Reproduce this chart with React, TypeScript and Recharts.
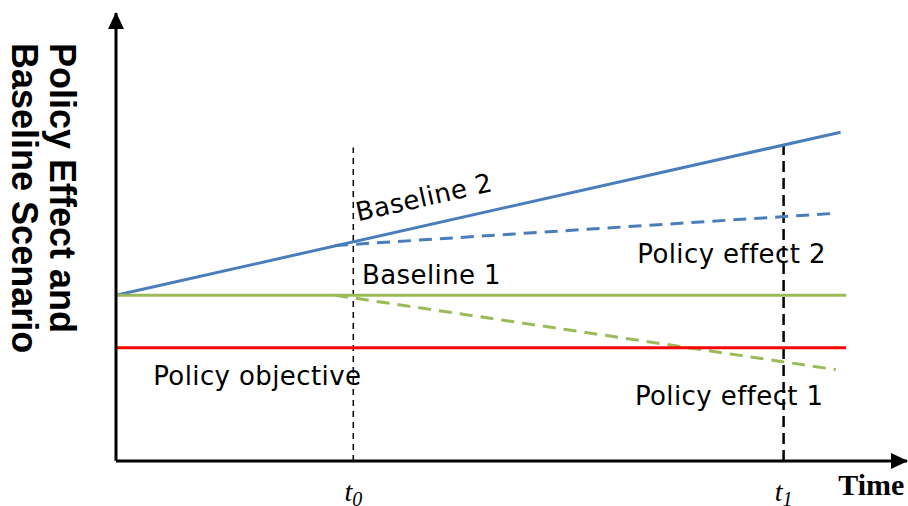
import { LineChart, Line, XAxis, YAxis, ReferenceLine, ReferenceDot } from "recharts";

// time runs 0..100, effect 0..100 (conceptual units)
const baseline2 = [
  { t: 0, v: 37 },
  { t: 91.6, v: 73.4 },
];
const policyEffect2 = [
  { t: 27.7, v: 48.1 },
  { t: 91, v: 55.3 },
];
const baseline1 = [
  { t: 0, v: 37 },
  { t: 92.3, v: 37 },
];
const policyEffect1 = [
  { t: 27.7, v: 37 },
  { t: 91, v: 20.4 },
];
const policyObjective = [
  { t: 0, v: 25.3 },
  { t: 92.3, v: 25.3 },
];

const t0 = 30;
const t1 = 84.4;
const timeTicks = [t0, t1];
const tickNames: Record<number, string> = { 30: "0", 84.4: "1" };

const notes = [
  { text: "Baseline 2", t: 30.6, v: 53.5, angle: -12.7 },
  { text: "Baseline 1", t: 31.1, v: 39.4, angle: 0 },
  { text: "Policy effect 2", t: 65.9, v: 44.3, angle: 0 },
  { text: "Policy effect 1", t: 65.6, v: 12.5, angle: 0 },
  { text: "Policy objective", t: 4.7, v: 17, angle: 0 },
];

const BLUE = "#4a7ebb";
const GREEN = "#9bbb59";
const RED = "#ff0000";

const noteShape = (text: string, angle: number) => (p: any) => (
  <text
    x={p.cx}
    y={p.cy}
    fontFamily="DejaVu Sans"
    fontSize={26}
    letterSpacing={0.4}
    fill="#000"
    transform={angle ? `rotate(${angle} ${p.cx} ${p.cy})` : undefined}
  >
    {text}
  </text>
);

const TimeTick = (p: any) => (
  <text
    x={p.x}
    y={p.y + 32}
    textAnchor="middle"
    fontFamily="Liberation Serif"
    fontStyle="italic"
    fontSize={28}
    fill="#000"
  >
    t
    <tspan fontSize={20} dy={5}>
      {tickNames[p.payload.value]}
    </tspan>
  </text>
);

const yTitle = (p: any) => (
  <text
    x={p.cx}
    y={p.cy}
    fontFamily="Liberation Sans"
    fontWeight="bold"
    fontSize={36}
    fill="#000"
    transform={`rotate(90 ${p.cx} ${p.cy})`}
  >
    <tspan x={p.cx} dy={0}>Policy Effect and</tspan>
    <tspan x={p.cx} dy={38}>Baseline Scenario</tspan>
  </text>
);

const timeTitle = (p: any) => (
  <text
    x={p.cx}
    y={p.cy}
    fontFamily="Liberation Serif"
    fontWeight="bold"
    fontSize={30}
    fill="#000"
  >
    Time
  </text>
);

export default function App() {
  return (
    <div style={{ position: "absolute", left: 0, top: 0, background: "#fff" }}>
      <LineChart
        width={908}
        height={506}
        margin={{ top: 13, right: 1, left: 115, bottom: 44 }}
      >
        <defs>
          <marker
            id="arrowEnd"
            markerUnits="userSpaceOnUse"
            markerWidth={17}
            markerHeight={16}
            viewBox="0 0 17 16"
            refX={16}
            refY={8}
            orient="auto"
          >
            <path d="M0,0 L17,8 L0,16 Z" fill="#000" />
          </marker>
          <marker
            id="arrowStart"
            markerUnits="userSpaceOnUse"
            markerWidth={17}
            markerHeight={16}
            viewBox="0 0 17 16"
            refX={16}
            refY={8}
            orient="auto-start-reverse"
          >
            <path d="M0,0 L17,8 L0,16 Z" fill="#000" />
          </marker>
        </defs>
        <XAxis
          dataKey="t"
          type="number"
          domain={[0, 100]}
          height={1}
          ticks={timeTicks}
          tick={TimeTick}
          tickLine={false}
          axisLine={{ stroke: "#000", strokeWidth: 3, markerEnd: "url(#arrowEnd)" }}
        />
        <YAxis
          type="number"
          domain={[0, 100]}
          width={1}
          tick={false}
          tickLine={false}
          axisLine={{ stroke: "#000", strokeWidth: 3, markerStart: "url(#arrowStart)" }}
        />
        <ReferenceLine
          segment={[
            { x: t0, y: 0 },
            { x: t0, y: 70 },
          ]}
          stroke="#000"
          strokeWidth={1.5}
          strokeDasharray="6 5"
        />
        <ReferenceLine
          segment={[
            { x: t1, y: 0 },
            { x: t1, y: 70.7 },
          ]}
          stroke="#000"
          strokeWidth={2.5}
          strokeDasharray="11 6"
        />
        <Line data={baseline2} dataKey="v" stroke={BLUE} strokeWidth={3} dot={false} isAnimationActive={false} />
        <Line
          data={policyEffect2}
          dataKey="v"
          stroke={BLUE}
          strokeWidth={3}
          strokeDasharray="13 8"
          dot={false}
          isAnimationActive={false}
        />
        <Line data={baseline1} dataKey="v" stroke={GREEN} strokeWidth={3} dot={false} isAnimationActive={false} />
        <Line
          data={policyEffect1}
          dataKey="v"
          stroke={GREEN}
          strokeWidth={3}
          strokeDasharray="13 8"
          dot={false}
          isAnimationActive={false}
        />
        <Line data={policyObjective} dataKey="v" stroke={RED} strokeWidth={3} dot={false} isAnimationActive={false} />
        {notes.map((n) => (
          <ReferenceDot
            key={n.text}
            x={n.t}
            y={n.v}
            ifOverflow="visible"
            shape={noteShape(n.text, n.angle)}
          />
        ))}
        <ReferenceDot x={-8.3} y={93.3} ifOverflow="visible" shape={yTitle} />
        <ReferenceDot x={91.3} y={-7.6} ifOverflow="visible" shape={timeTitle} />
      </LineChart>
    </div>
  );
}
